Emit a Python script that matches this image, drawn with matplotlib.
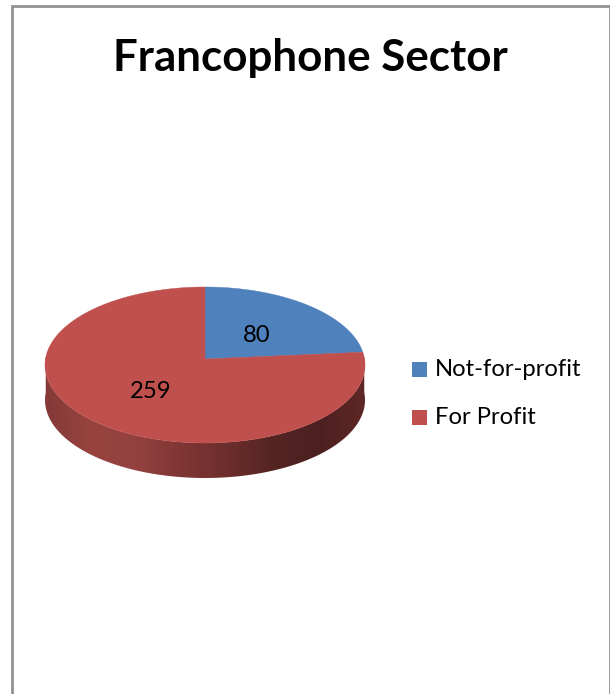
import numpy as np
import matplotlib
matplotlib.use("Agg")
import matplotlib.pyplot as plt
from matplotlib.patches import Polygon, Rectangle

title = "Francophone Sector"
categories = ["Not-for-profit", "For Profit"]
values = [80, 259]
colors = ["#4F81BD", "#C0504D"]

W, H = 610, 694
fig = plt.figure(figsize=(W / 100, H / 100), dpi=100)
ax = fig.add_axes([0, 0, 1, 1])
ax.set_xlim(0, W)
ax.set_ylim(H, 0)
ax.axis("off")
font = "Lato"

# frame (open at the bottom, cropped by the image)
ax.plot([12, 12, 609.5, 609.5], [H + 5, 5.5, 5.5, H + 5], color="#929292", lw=2.0, zorder=1,
        solid_joinstyle="miter")

# perspective projection of a flat disc
cx, cy, rx, ry, depth = 205, 365, 160, 78, 35
apex_up = 6
c = apex_up * 2 / (2 * ry)


def project(theta):
    u, v = np.sin(theta), np.cos(theta)
    w = 1 + c * v
    return cx + rx * np.sqrt(1 - c ** 2) * u / w, cy - (ry * v + apex_up) / w


# side wall with a horizontal gradient
t = np.linspace(np.pi / 2 - 0.02, 3 * np.pi / 2 + 0.02, 200)
xs, ys = project(t)
side = np.r_[np.c_[xs, ys], np.c_[xs[::-1], ys[::-1] + depth]]
side_patch = Polygon(side, closed=True, fc="none", ec="none", zorder=2)
ax.add_patch(side_patch)
grad_stops = ["#843A38", "#98433F", "#93413F", "#7F3634", "#6C2E2C", "#542422", "#4C2020", "#5E2826"]
cmap = matplotlib.colors.LinearSegmentedColormap.from_list("side", grad_stops)
im = ax.imshow(np.linspace(0, 1, 256)[None, :], cmap=cmap, aspect="auto",
               extent=(cx - rx, cx + rx, cy + 130, cy - 30), zorder=2.1)
im.set_clip_path(side_patch)
ax.set_xlim(0, W)
ax.set_ylim(H, 0)

# top slices, clockwise from 12 o'clock, angles from the values
total = sum(values)
start = 0.0
apex_xy = (cx, cy - apex_up)
for val, col in zip(values, colors):
    end = start + 2 * np.pi * val / total
    th = np.linspace(start, end, 300)
    px, py = project(th)
    ax.add_patch(Polygon(np.r_[[apex_xy], np.c_[px, py]], closed=True, fc=col, ec=col,
                         lw=0.3, zorder=3))
    start = end

# value labels
ax.text(257, 335, str(values[0]), ha="center", va="center", fontsize=17.2, family=font,
        color="black", zorder=4)
ax.text(151, 391, str(values[1]), ha="center", va="center", fontsize=17.2, family=font,
        color="black", zorder=4)

# title
ax.text(310, 58, title, ha="center", va="center", fontsize=31.6, fontweight="bold",
        family=font, color="black", zorder=4)

# legend
for name, col, yy in zip(categories, colors, [369.5, 417.5]):
    ax.add_patch(Rectangle((412, yy - 7.5), 15, 15, fc=col, ec="none", zorder=4))
    ax.text(435, yy, name, ha="left", va="center", fontsize=17.2, family=font,
            color="black", zorder=4)

fig.savefig("out.png", dpi=100)
